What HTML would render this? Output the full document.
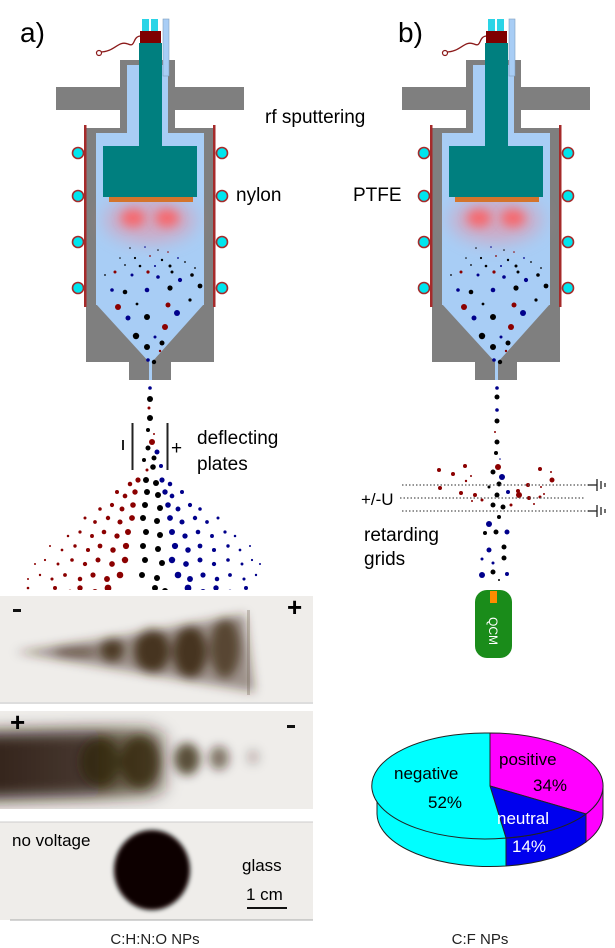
<!DOCTYPE html>
<html><head><meta charset="utf-8"><style>
html,body{margin:0;padding:0;background:#fff;}
svg{display:block;font-family:"Liberation Sans",Arial,sans-serif;}
</style></head><body>
<svg id="s" width="615" height="948" viewBox="0 0 615 948" xmlns="http://www.w3.org/2000/svg">
<defs>
<filter id="bl" x="-50%" y="-50%" width="200%" height="200%"><feGaussianBlur stdDeviation="9"/></filter>
<filter id="bl2" x="-50%" y="-50%" width="200%" height="200%"><feGaussianBlur stdDeviation="5"/></filter>
<filter id="bl4" x="-50%" y="-50%" width="200%" height="200%"><feGaussianBlur stdDeviation="8"/></filter>
<filter id="bl3" x="-50%" y="-50%" width="200%" height="200%"><feGaussianBlur stdDeviation="2.5"/></filter>
<linearGradient id="g2" x1="0" x2="1" y1="0" y2="0">
<stop offset="0" stop-color="#2a1a08" stop-opacity="0.95"/><stop offset="0.6" stop-color="#2a1a08" stop-opacity="0.85"/><stop offset="1" stop-color="#2a1a08" stop-opacity="0.5"/></linearGradient>
<g id="app">
 <path d="M100,52 C115,52 118,40 128,44 C136,48 132,36 141,36" fill="none" stroke="#8b1a1a" stroke-width="1.3"/>
 <circle cx="99" cy="53" r="2.5" fill="#fff" stroke="#8b1a1a" stroke-width="1.2"/>
 <rect x="120" y="60" width="55" height="80" fill="#7f7f7f"/>
 <rect x="56" y="87" width="188" height="23" fill="#7f7f7f"/>
 <rect x="86" y="128" width="128" height="234" fill="#7f7f7f"/>
 <rect x="129" y="350" width="42" height="30" fill="#7f7f7f"/>
 <rect x="127" y="65" width="41" height="70" fill="#a8cdf5"/>
 <rect x="96" y="133" width="108" height="172" fill="#a8cdf5"/>
 <polygon points="96,304 204,304 152,362 152,380 149,380 149,362" fill="#a8cdf5"/>
 <ellipse cx="150" cy="220" rx="45" ry="22" fill="#f08a9a" opacity="0.55" filter="url(#bl)"/>
 <ellipse cx="133" cy="218" rx="12" ry="9" fill="#ff5a5a" opacity="0.8" filter="url(#bl2)"/>
 <ellipse cx="167" cy="218" rx="12" ry="9" fill="#ff5a5a" opacity="0.8" filter="url(#bl2)"/>
 <rect x="163" y="19" width="6" height="57" fill="#a8cdf5" stroke="#7f9fbf" stroke-width="0.6"/>
 <rect x="139" y="43" width="23" height="105" fill="#007f7f"/>
 <rect x="103" y="146" width="94" height="51" fill="#007f7f"/>
 <rect x="109" y="197" width="84" height="5" fill="#d4742c"/>
 <rect x="140" y="31" width="21" height="12" fill="#7f0000"/>
 <rect x="142" y="19" width="7" height="12" fill="#2ad4e6"/>
 <rect x="151" y="19" width="7" height="12" fill="#2ad4e6"/>
 <rect x="84" y="125" width="2.5" height="182" fill="#a52a2a"/>
 <rect x="213" y="125" width="2.5" height="182" fill="#a52a2a"/>
 <g fill="#00e5ee" stroke="#a52a2a" stroke-width="1.6">
  <circle cx="78" cy="153" r="5.5"/><circle cx="78" cy="196" r="5.5"/><circle cx="78" cy="242" r="5.5"/><circle cx="78" cy="288" r="5.5"/>
  <circle cx="222" cy="153" r="5.5"/><circle cx="222" cy="196" r="5.5"/><circle cx="222" cy="242" r="5.5"/><circle cx="222" cy="288" r="5.5"/>
 </g>
 <g id="cdots"></g>
</g>
</defs>
<use href="#app"/>
<use href="#app" x="346"/>
<g id="dots"></g>

<text x="20" y="42" font-size="28">a)</text>
<text x="398" y="42" font-size="28">b)</text>
<text x="265" y="123" font-size="19">rf sputtering</text>
<text x="236" y="201" font-size="19">nylon</text>
<text x="353" y="201" font-size="19">PTFE</text>

<rect x="131.5" y="423" width="2" height="47" fill="#222"/>
<rect x="166.5" y="423" width="2" height="47" fill="#222"/>
<rect x="122" y="440" width="2" height="10" fill="#222"/>
<text x="171" y="454" font-size="19">+</text>
<text x="197" y="444" font-size="19">deflecting</text>
<text x="197" y="470" font-size="19">plates</text>

<g stroke="#555" stroke-width="1.2" stroke-dasharray="1.5,2">
<line x1="402" y1="485" x2="590" y2="485"/>
<line x1="400" y1="498" x2="585" y2="498"/>
<line x1="402" y1="511" x2="590" y2="511"/>
</g>
<g stroke="#222" stroke-width="1.3">
<line x1="588" y1="485" x2="597" y2="485"/><line x1="597" y1="479" x2="597" y2="491"/><line x1="601" y1="481" x2="601" y2="489"/><line x1="605" y1="483" x2="605" y2="487"/>
<line x1="588" y1="511" x2="597" y2="511"/><line x1="597" y1="505" x2="597" y2="517"/><line x1="601" y1="507" x2="601" y2="515"/><line x1="605" y1="509" x2="605" y2="513"/>
</g>
<text x="361" y="505" font-size="17">+/-U</text>
<text x="364" y="541" font-size="19">retarding</text>
<text x="364" y="565" font-size="19">grids</text>
<rect x="475" y="590" width="37" height="68" rx="12" fill="#1a8c1a"/>
<rect x="490" y="591" width="7" height="12" fill="#ff8c00"/>
<text transform="translate(489,617) rotate(90)" font-size="12" fill="#fff">QCM</text>

<g>
<rect x="0" y="596" width="313" height="106" fill="#efedea"/>
<g fill="#3a2510" filter="url(#bl2)">
<polygon points="15,652 110,638 245,614 255,692 110,668" opacity="0.45"/>
<ellipse cx="75" cy="652" rx="22" ry="5" opacity="0.5"/>
<ellipse cx="112" cy="650" rx="12" ry="12" opacity="0.8"/>
<ellipse cx="152" cy="651" rx="18" ry="22" opacity="0.85"/>
<ellipse cx="190" cy="652" rx="17" ry="26" opacity="0.85"/>
<ellipse cx="225" cy="648" rx="15" ry="30" opacity="0.7"/>
</g>
<rect x="247" y="610" width="3" height="85" fill="#6a5a48" opacity="0.3"/>
<rect x="0" y="711" width="313" height="98" fill="#efedea"/>
<g filter="url(#bl4)">
<path d="M-20,732 L150,728 L165,735 L165,790 L150,796 L-20,800 Z" fill="url(#g2)"/>
</g>
<g fill="#2a1a08" filter="url(#bl2)">
<ellipse cx="100" cy="762" rx="20" ry="24" opacity="0.6"/>
<ellipse cx="140" cy="762" rx="20" ry="26" opacity="0.7"/>
<ellipse cx="187" cy="759" rx="13" ry="16" opacity="0.75"/>
<ellipse cx="219" cy="758" rx="10" ry="12" opacity="0.55"/>
<ellipse cx="253" cy="757" rx="7" ry="8" opacity="0.2"/>
</g>
<rect x="0" y="822" width="313" height="98" fill="#efedea"/>
<ellipse cx="152" cy="870" rx="38" ry="40" fill="#0a0603" filter="url(#bl3)"/>
<rect x="0" y="702" width="313" height="9" fill="#fff"/>
<rect x="0" y="809" width="313" height="13" fill="#fff"/>
<rect x="0" y="590" width="313" height="6" fill="#fff"/>
<rect x="0" y="920" width="313" height="6" fill="#fff"/>
<rect x="313" y="590" width="10" height="340" fill="#fff"/>
<line x1="0" y1="703" x2="313" y2="703" stroke="#bbb"/>
<line x1="0" y1="822" x2="313" y2="822" stroke="#ccc"/>
<line x1="10" y1="920" x2="313" y2="920" stroke="#aaa"/>
<rect x="13" y="609" width="8" height="3" fill="#111"/>
<text x="287" y="616" font-size="26" font-weight="bold">+</text>
<text x="10" y="731" font-size="26" font-weight="bold">+</text>
<rect x="287" y="725" width="8" height="3" fill="#111"/>
<text x="12" y="846" font-size="17">no voltage</text>
<text x="242" y="871" font-size="17">glass</text>
<text x="246" y="900" font-size="17">1 cm</text>
<rect x="247" y="907" width="40" height="2" fill="#111"/>
</g>
<text x="155" y="944" font-size="15" text-anchor="middle" fill="#222">C:H:N:O NPs</text>
<text x="480" y="944" font-size="15" text-anchor="middle" fill="#222">C:F NPs</text>

<g stroke="#222" stroke-width="1">
<path d="M603,786 A113,53 0 0 1 586,814 L586,842 A113,53 0 0 0 603,814 Z" fill="#ff00ff"/>
<path d="M586,814 A113,53 0 0 1 506,838 L506,866 A113,53 0 0 0 586,842 Z" fill="#0000ee"/>
<path d="M506,838 A113,53 0 0 1 377,786 L377,814 A113,53 0 0 0 506,866 Z" fill="#00ffff"/>
<path d="M490,786 L490,733 A113,53 0 0 1 586,814 Z" fill="#ff00ff"/>
<path d="M490,786 L586,814 A113,53 0 0 1 506,838 Z" fill="#0000ee"/>
<path d="M490,786 L506,838 A113,53 0 1 1 490,733 Z" fill="#00ffff"/>
</g>
<g font-size="17">
<text x="394" y="779">negative</text>
<text x="428" y="808">52%</text>
<text x="499" y="765">positive</text>
<text x="533" y="791">34%</text>
<text x="497" y="824" fill="#fff">neutral</text>
<text x="512" y="852" fill="#fff">14%</text>
</g>
</svg>
<script>
(function(){
var NS="http://www.w3.org/2000/svg";
var C={k:"#000",r:"#8b0000",b:"#00008b"};
function dot(g,x,y,r,c){var e=document.createElementNS(NS,"circle");e.setAttribute("cx",x);e.setAttribute("cy",y);e.setAttribute("r",r);e.setAttribute("fill",C[c]);g.appendChild(e);}
var cd=document.getElementById("cdots");
var ch=[[130,248,.8,'k'],[145,247,.8,'b'],[158,250,.8,'k'],[168,252,.8,'r'],[120,258,.8,'k'],[135,258,1.1,'k'],[150,256,.9,'r'],[162,260,1.2,'k'],[178,258,.9,'b'],[125,265,.9,'k'],[140,266,1.3,'k'],[155,266,1,'b'],[170,266,1.5,'k'],[185,262,.9,'k'],[115,272,1.5,'r'],[132,275,1.5,'b'],[148,272,1.6,'r'],[172,272,1.5,'k'],[192,275,1.8,'k'],[112,290,1.8,'b'],[125,292,2.3,'k'],[147,290,2.3,'b'],[170,288,2.6,'k'],[200,286,2.4,'k'],[158,277,1.8,'b'],[180,280,2.1,'b'],[118,307,3,'r'],[137,304,1.4,'k'],[168,305,2.5,'r'],[177,313,3,'b'],[128,318,2.5,'b'],[147,317,3,'k'],[165,327,3,'r'],[136,336,3.2,'k'],[155,337,1.5,'b'],[147,347,3,'k'],[162,343,2.5,'k'],[148,360,1.8,'b'],[154,362,2.2,'k'],[160,351,1.2,'r'],[190,300,1.6,'k'],[105,275,.9,'k'],[195,268,.9,'k']];
ch.forEach(function(d){dot(cd,d[0],d[1],d[2],d[3]);});
var g=document.getElementById("dots");
[[150,388,1.8,'b'],[150,399,3,'k'],[149,408,1.5,'r'],[150,418,3,'k'],[148,430,2,'k'],[154,434,1,'r'],[152,442,3,'r'],[148,448,2.5,'k'],[157,452,2.5,'b'],[144,460,2,'k'],[154,458,2.5,'k'],[153,467,2.8,'k'],[161,466,2,'b'],[147,470,1.5,'r']].forEach(function(d){dot(g,d[0],d[1],d[2],d[3]);});
var rows=[[480,[138,130],[146,156],[162,170]],[492,[135,125,117],[147,158],[165,172,182]],[505,[133,122,112,100],[145,160],[168,178,190,200]],[518,[132,120,108,95,85],[143,157],[170,182,195,207,218]],[532,[128,117,104,92,80,68],[146,160],[172,185,198,212,225,235]],[546,[126,113,100,88,75,62,50],[143,158],[175,188,200,214,228,240,250]],[560,[125,112,98,85,72,58,45,35],[145,162],[172,186,200,214,228,242,252,260]],[575,[120,107,93,80,65,52,40,28],[142,157],[178,190,203,217,230,244,256]],[588,[108,95,80,70,55,40,28],[155,165],[188,203,216,230,246,262]]];
rows.forEach(function(R,i){var y=R[0];
 R[1].forEach(function(x,j){dot(g,x,y+(j%2)*4,Math.max(1,2.6+i*0.1-j*0.35),'r');});
 R[2].forEach(function(x,j){dot(g,x,y+j*3,3,'k');});
 R[3].forEach(function(x,j){dot(g,x,y+(j%2)*4,Math.max(1,2.6+i*0.1-j*0.35),'b');});
});
[[497,388,1.8,'b'],[497,397,2.5,'k'],[497,410,1.8,'b'],[497,421,2.5,'k'],[495,432,1,'r'],[497,442,2.5,'k'],[496,453,2,'k'],[500,459,.8,'b'],[498,467,3,'r'],[493,472,2.5,'k'],[502,477,3,'b'],[499,484,2.5,'k'],[489,487,1.5,'k'],[508,492,2,'b'],[497,495,2.5,'k'],[493,505,2.5,'k'],[503,507,2.5,'k'],[499,517,2,'k'],[489,524,3,'b'],[507,532,2.5,'b'],[496,532,2.5,'k'],[485,533,2,'k'],[504,547,2.5,'k'],[489,550,2.5,'b'],[504,558,2.5,'k'],[482,559,1.5,'b'],[493,563,1.5,'b'],[482,575,3,'b'],[493,572,2.5,'k'],[507,574,2,'b'],[499,580,1,'k'],
[439,470,2,'r'],[453,474,2,'r'],[465,466,2,'r'],[471,476,1,'r'],[466,481,1.2,'r'],[440,488,2,'r'],[461,493,2,'r'],[475,495,2,'r'],[482,500,1.5,'r'],[518,491,2,'r'],[519,495,3,'r'],[529,498,2,'r'],[540,497,1.5,'r'],[528,485,2,'r'],[540,469,2,'r'],[552,480,2.5,'r'],[551,472,1,'r'],[541,487,1,'r'],[534,504,1,'r'],[544,494,1,'r'],[472,501,1,'r'],[511,505,1.5,'r']].forEach(function(d){dot(g,d[0],d[1],d[2],d[3]);});
})();
</script>
</body></html>
